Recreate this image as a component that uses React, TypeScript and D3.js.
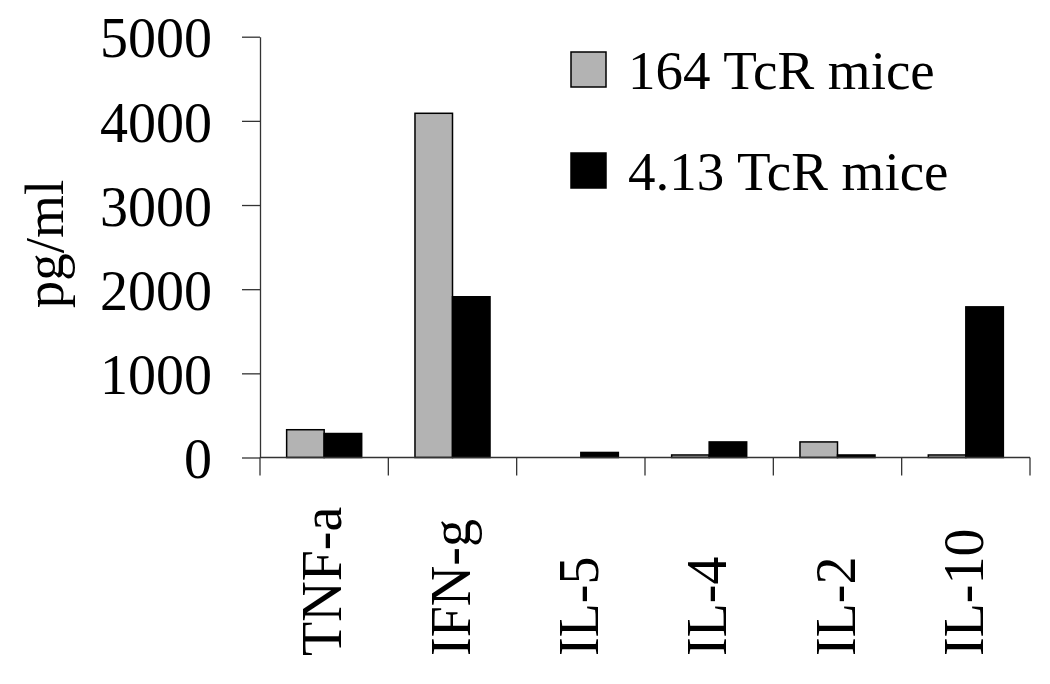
import React, { useEffect, useRef } from 'react';
import * as d3 from 'd3';

const categories = ['TNF-a', 'IFN-g', 'IL-5', 'IL-4', 'IL-2', 'IL-10'];
const mice164 = [330, 4090, 0, 30, 185, 30];
const mice413 = [285, 1910, 60, 185, 30, 1790];
const seriesNames = ['164 TcR mice', '4.13 TcR mice'];
const seriesColors = ['#b3b3b3', '#000000'];
const yTicks = [0, 1000, 2000, 3000, 4000, 5000];

const App = () => {
  const chartRef = useRef<HTMLDivElement>(null);

  useEffect(() => {
    const width = 1050;
    const height = 684;
    const font = '"Liberation Serif", "Times New Roman", serif';

    const x = d3.scaleBand().domain(categories).range([260, 1030]).padding(0);
    const inner = d3.scaleBand().domain(['s0', 's1']).range([0, x.bandwidth()]).paddingInner(0).paddingOuter(0.71);
    const y = d3.scaleLinear().domain([0, 5000]).range([457.5, 36.7]);

    d3.select(chartRef.current).selectAll('*').remove();

    const svg = d3.select(chartRef.current)
      .append('svg')
      .attr('width', width)
      .attr('height', height)
      .style('position', 'absolute')
      .style('left', '0px')
      .style('top', '0px')
      .style('background', '#fff');

    // bars
    const rows = categories.map((c, i) => ({ cat: c, vals: [mice164[i], mice413[i]] }));
    const groups = svg.append('g').selectAll('g')
      .data(rows)
      .join('g')
      .attr('transform', d => `translate(${x(d.cat)},0)`);

    groups.selectAll('rect')
      .data(d => d.vals.map((v, k) => ({ v, k })).filter(o => o.v > 0))
      .join('rect')
      .attr('x', d => inner('s' + d.k)!)
      .attr('width', inner.bandwidth())
      .attr('y', d => y(d.v))
      .attr('height', d => y(0) - y(d.v))
      .attr('fill', d => seriesColors[d.k])
      .attr('stroke', '#000')
      .attr('stroke-width', 1.5);

    // y axis
    const yAxis = svg.append('g')
      .attr('transform', 'translate(260,0)')
      .call(d3.axisLeft(y).tickValues(yTicks).tickFormat(d3.format('d')).tickSize(18).tickPadding(30).tickSizeOuter(0));
    yAxis.select('.domain').attr('stroke', '#333').attr('stroke-width', 1.3);
    yAxis.selectAll('.tick line').attr('stroke', '#333').attr('stroke-width', 1.3);
    yAxis.selectAll('.tick text')
      .attr('font-family', font)
      .attr('font-size', 56)
      .attr('fill', '#000')
      .attr('dy', '0.36em');

    // x axis line and category boundary ticks
    svg.append('line')
      .attr('x1', 260).attr('x2', 1030)
      .attr('y1', y(0)).attr('y2', y(0))
      .attr('stroke', '#333').attr('stroke-width', 1.3);

    const edges = [...categories.map(c => x(c)!), x.range()[1]];
    svg.append('g').selectAll('line')
      .data(edges)
      .join('line')
      .attr('x1', d => d).attr('x2', d => d)
      .attr('y1', y(0)).attr('y2', y(0) + 18)
      .attr('stroke', '#333').attr('stroke-width', 1.3);

    svg.append('g').selectAll('text')
      .data(categories)
      .join('text')
      .attr('transform', d => `translate(${x(d)! + x.bandwidth() / 2 + 17},656) rotate(-90)`)
      .attr('text-anchor', 'start')
      .attr('font-family', font)
      .attr('font-size', 56)
      .text(d => d);

    // y axis title
    svg.append('text')
      .attr('transform', 'translate(63,244) rotate(-90)')
      .attr('text-anchor', 'middle')
      .attr('font-family', font)
      .attr('font-size', 55)
      .text('pg/ml');

    // legend
    const legend = svg.append('g').selectAll('g')
      .data(seriesNames)
      .join('g')
      .attr('transform', (d, i) => `translate(571,${52 + i * 101})`);
    legend.append('rect')
      .attr('width', 35).attr('height', 35)
      .attr('fill', (d, i) => seriesColors[i])
      .attr('stroke', '#000').attr('stroke-width', 1.5);
    legend.append('text')
      .attr('x', 57).attr('y', 37)
      .attr('font-family', font)
      .attr('font-size', 55)
      .text(d => d);
  }, []);

  return (
    <div ref={chartRef}></div>
  );
};

export default App;
